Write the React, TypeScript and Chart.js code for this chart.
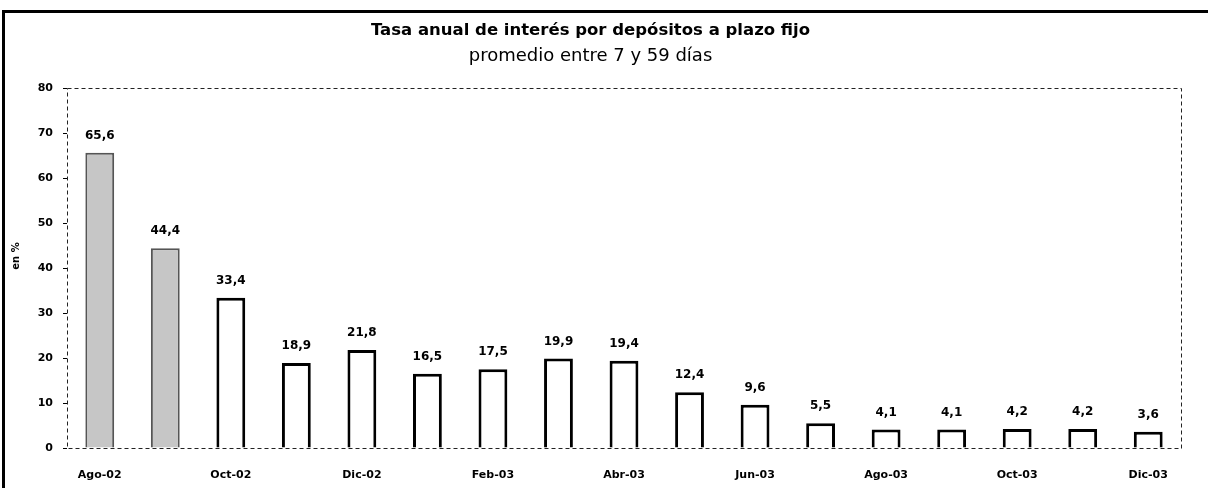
import React, { useEffect, useRef } from "react";
import { Chart, registerables } from "chart.js";

Chart.register(...registerables);

const months = [
  "Ago-02", "Sep-02", "Oct-02", "Nov-02", "Dic-02", "Ene-03", "Feb-03", "Mar-03",
  "Abr-03", "May-03", "Jun-03", "Jul-03", "Ago-03", "Sep-03", "Oct-03", "Nov-03", "Dic-03",
];
const rates = [65.6, 44.4, 33.4, 18.9, 21.8, 16.5, 17.5, 19.9, 19.4, 12.4, 9.6, 5.5, 4.1, 4.1, 4.2, 4.2, 3.6];
const shadedCount = 2;
const yTicks = [0, 10, 20, 30, 40, 50, 60, 70, 80];
const titleText = "Tasa anual de interés por depósitos a plazo fijo";
const subtitleText = "promedio entre 7 y 59 días";
const yAxisTitle = "en %";

const FONT = "'DejaVu Sans', 'Liberation Sans', Arial, sans-serif";

const framePlugin = {
  id: "frame",
  beforeDatasetsDraw(chart: any) {
    const { ctx, chartArea } = chart;
    ctx.save();
    ctx.strokeStyle = "#222";
    ctx.lineWidth = 1;
    ctx.setLineDash([4, 3]);
    ctx.strokeRect(chartArea.left + 0.5, chartArea.top + 0.5, chartArea.right - chartArea.left, chartArea.bottom - chartArea.top);
    ctx.restore();
  },
};

const labelPlugin = {
  id: "valueLabels",
  afterDatasetsDraw(chart: any) {
    const { ctx } = chart;
    const meta = chart.getDatasetMeta(0);
    ctx.save();
    ctx.font = `bold 12px ${FONT}`;
    ctx.fillStyle = "#000";
    ctx.textAlign = "center";
    ctx.textBaseline = "middle";
    meta.data.forEach((bar: any, i: number) => {
      const v = rates[i];
      ctx.fillText(v.toFixed(1).replace(".", ","), bar.x, bar.y - 17);
    });
    // y-axis title
    ctx.font = `bold 10px ${FONT}`;
    ctx.translate(16, 256);
    ctx.rotate(-Math.PI / 2);
    ctx.fillText(yAxisTitle, 0, 0);
    ctx.restore();
  },
};

export default function App() {
  const ref = useRef<HTMLCanvasElement>(null);
  useEffect(() => {
    if (!ref.current) return;
    const chart = new Chart(ref.current, {
      type: "bar",
      data: {
        labels: months,
        datasets: [
          {
            data: rates,
            backgroundColor: rates.map((_, i) => (i < shadedCount ? "#c6c6c6" : "#ffffff")),
            borderColor: rates.map((_, i) => (i < shadedCount ? "#555555" : "#000000")),
            borderWidth: rates.map((_, i) => (i < shadedCount ? 2 : 3)),
            barPercentage: 0.44,
            categoryPercentage: 1,
          },
        ],
      },
      options: {
        animation: false,
        responsive: false,
        maintainAspectRatio: false,
        layout: { padding: { top: 12, right: 27, bottom: 0, left: 0 } },
        plugins: {
          legend: { display: false },
          tooltip: { enabled: false },
          title: {
            display: true,
            text: titleText,
            color: "#000",
            font: { family: FONT, size: 16.5, weight: "bold" },
            padding: { top: 9, bottom: 0 },
          },
          subtitle: {
            display: true,
            text: subtitleText,
            color: "#000",
            font: { family: FONT, size: 18, weight: "normal" },
            padding: { top: 4.4, bottom: 21.2 },
          },
        },
        scales: {
          x: {
            grid: { display: false },
            border: { display: false },
            ticks: {
              autoSkip: false,
              maxRotation: 0,
              padding: 13,
              color: "#000",
              font: { family: FONT, size: 11, weight: "bold" },
              callback: (_v: any, i: number) => (i % 2 === 0 ? months[i] : ""),
            },
            afterFit: (s: any) => {
              s.height = 40;
            },
          },
          y: {
            min: 0,
            max: 80,
            afterBuildTicks: (s: any) => {
              s.ticks = yTicks.map((v) => ({ value: v }));
            },
            grid: { display: true, drawOnChartArea: false, drawTicks: true, tickLength: 4, color: "#000" },
            border: { display: false },
            ticks: {
              padding: 10,
              color: "#000",
              font: { family: FONT, size: 11, weight: "bold" },
            },
            afterFit: (s: any) => {
              s.width = 67;
            },
          },
        },
      },
      plugins: [framePlugin, labelPlugin],
    });
    return () => chart.destroy();
  }, []);

  return (
    <div style={{ position: "absolute", left: 0, top: 0, width: 1208, height: 488, background: "#fff" }}>
      <div
        style={{
          position: "absolute",
          left: 2,
          top: 10,
          width: 1206,
          height: 478,
          borderLeft: "3px solid #000",
          borderTop: "3px solid #000",
          boxSizing: "border-box",
        }}
      />
      <canvas ref={ref} width={1208} height={488} style={{ position: "absolute", left: 0, top: 0, width: 1208, height: 488 }} />
    </div>
  );
}
